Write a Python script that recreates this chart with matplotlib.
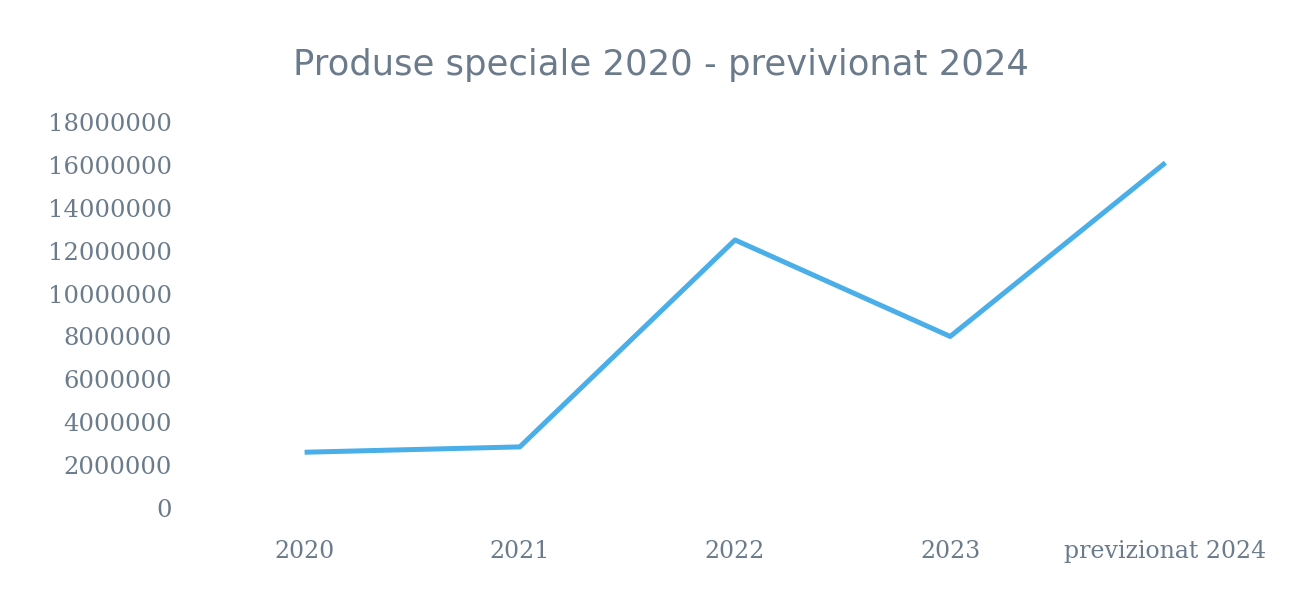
import numpy as np
import matplotlib.pyplot as plt

# data
categories = ['2020', '2021', '2022', '2023', 'previzionat 2024']
values = [2600000, 2850000, 12500000, 8000000, 16100000]
yticks = [0, 2000000, 4000000, 6000000, 8000000, 10000000,
          12000000, 14000000, 16000000, 18000000]

text_col = '#6b7b8c'
line_col = '#4aaee8'

fig = plt.figure(figsize=(13.01, 5.91), dpi=100)
ax = fig.add_axes([197/1301, 1-508/591, (1273-197)/1301, (508-122)/591])

x = np.arange(len(categories))
ax.plot(x, values, color=line_col, linewidth=3.6, solid_capstyle='butt')

ax.set_xlim(-0.5, len(categories) - 0.5)
ax.set_ylim(0, 18000000)
ax.set_xticks(x)
ax.set_xticklabels(categories)
ax.set_yticks(yticks)
ax.set_yticklabels([str(v) for v in yticks])

for s in ax.spines.values():
    s.set_visible(False)
ax.tick_params(axis='both', length=0, colors=text_col)
ax.tick_params(axis='y', pad=18)
ax.tick_params(axis='x', pad=23)
for lab in ax.get_yticklabels():
    lab.set_fontfamily('DejaVu Serif')
    lab.set_fontsize(17.5)
for lab in ax.get_xticklabels():
    lab.set_fontfamily('DejaVu Serif')
    lab.set_fontsize(17)

fig.text(0.508, 0.89, 'Produse speciale 2020 - previvionat 2024',
         ha='center', va='center', fontsize=25.5, color=text_col,
         family='DejaVu Sans')

plt.savefig('out.png', dpi=100)
